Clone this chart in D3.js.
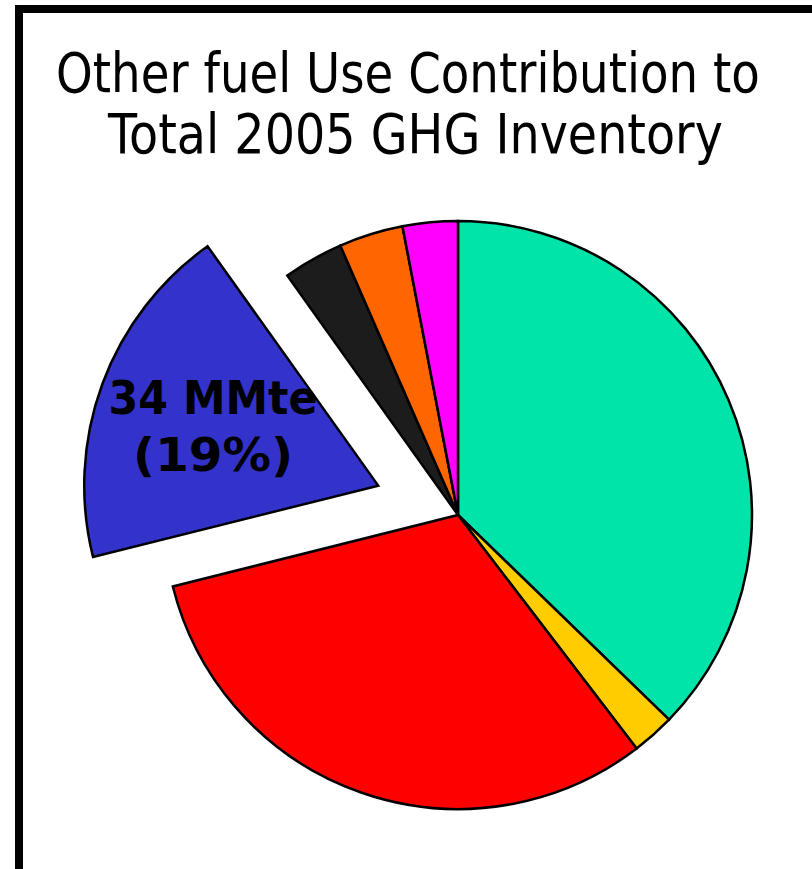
<!DOCTYPE html>
<html>
<head>
<meta charset="utf-8">
<script src="https://cdn.jsdelivr.net/npm/d3@7"></script>
<style>
  html, body { margin: 0; padding: 0; background: #fff; }
  svg { display: block; }
</style>
</head>
<body>
<svg id="chart" width="812" height="869"></svg>
<script>
// Other fuel use emissions by source, MMte (clockwise from 12 o'clock)
const sources = ["Source A", "Source B", "Source C", "Source D", "Source E", "Source F", "Source G"];
const emissions = [66.5, 4.2, 56.2, 34, 5.9, 6.3, 5.4];
const sliceColors = ["#00E4AA", "#FFCC00", "#FF0000", "#3333CC", "#1C1C1C", "#FF6600", "#FF00FF"];
const explodedSource = "Source D";
const titleLines = ["Other fuel Use Contribution to", "Total 2005 GHG Inventory"];
const unitLabel = "MMte";

const svg = d3.select("#chart");
const W = 812, H = 869;

svg.append("rect").attr("width", W).attr("height", H).attr("fill", "#fff");

// frame lines along the top and left
svg.append("line").attr("x1", 15).attr("x2", W).attr("y1", 9).attr("y2", 9)
  .attr("stroke", "#000").attr("stroke-width", 8);
svg.append("line").attr("x1", 19).attr("x2", 19).attr("y1", 5).attr("y2", H)
  .attr("stroke", "#000").attr("stroke-width", 8);

// fit a text node horizontally into [x, x + width] by scaling in x only
function fitText(sel, x, y, width) {
  sel.each(function () {
    const natural = this.getComputedTextLength();
    const sx = width / natural;
    d3.select(this).attr("x", 0).attr("y", 0)
      .attr("transform", `translate(${x},${y}) scale(${sx},1)`);
  });
}

// title
const titleSpec = [
  { x: 56, y: 92, len: 704 },
  { x: 108, y: 153, len: 615 }
];
svg.selectAll("text.title").data(titleLines).join("text")
  .attr("class", "title")
  .attr("font-family", "DejaVu Sans, Verdana, sans-serif")
  .attr("font-size", 55)
  .attr("fill", "#000")
  .text(d => d)
  .each(function (d, i) {
    fitText(d3.select(this), titleSpec[i].x, titleSpec[i].y, titleSpec[i].len);
  });

// pie
const cx = 458, cy = 515, R = 294, explode = 85;
const data = sources.map((s, i) => ({ source: s, value: emissions[i], color: sliceColors[i] }));
const total = d3.sum(emissions);

const pie = d3.pie().value(d => d.value).sort(null).startAngle(0).endAngle(2 * Math.PI);
const arc = d3.arc().innerRadius(0).outerRadius(R);
const arcs = pie(data);

const g = svg.append("g").attr("transform", `translate(${cx},${cy})`);

function offset(d) {
  if (d.data.source !== explodedSource) return [0, 0];
  const mid = (d.startAngle + d.endAngle) / 2;
  return [Math.sin(mid) * explode, -Math.cos(mid) * explode];
}

g.selectAll("path.slice").data(arcs).join("path")
  .attr("class", "slice")
  .attr("d", arc)
  .attr("transform", d => `translate(${offset(d)})`)
  .attr("fill", d => d.data.color)
  .attr("stroke", "#000")
  .attr("stroke-width", 2.5)
  .attr("stroke-linejoin", "miter");

// value label on the exploded slice
const labelArc = d3.arc().innerRadius(176).outerRadius(176);
const ex = arcs.find(d => d.data.source === explodedSource);
const [ox, oy] = offset(ex);
const [lx, ly] = labelArc.centroid(ex);
const pct = Math.round(ex.data.value / total * 100);
const labelLines = [
  { text: `${ex.data.value} ${unitLabel}`, dy: -11, len: 209 },
  { text: `(${pct}%)`, dy: 46, len: 160 }
];
const labelX = cx + lx + ox, labelY = cy + ly + oy;
svg.selectAll("text.val").data(labelLines).join("text")
  .attr("class", "val")
  .attr("font-family", "DejaVu Sans, Verdana, sans-serif")
  .attr("font-weight", "bold")
  .attr("font-size", 47)
  .attr("fill", "#000")
  .text(d => d.text)
  .each(function (d) {
    fitText(d3.select(this), labelX - d.len / 2, labelY + d.dy, d.len);
  });
</script>
</body>
</html>
